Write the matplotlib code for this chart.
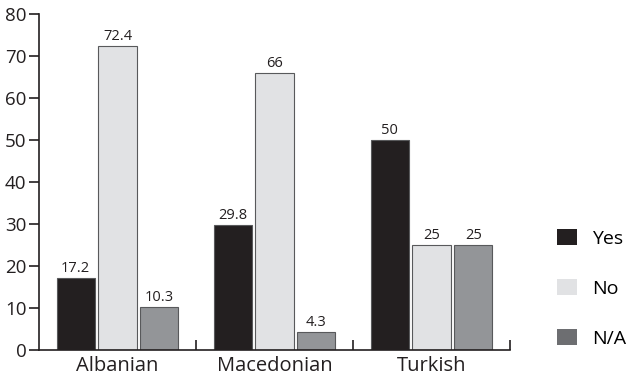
import numpy as np
import matplotlib
matplotlib.use('Agg')
import matplotlib.pyplot as plt
from matplotlib.patches import Patch

plt.rcParams['font.family'] = ['Open Sans', 'DejaVu Sans']

groups = ['Albanian', 'Macedonian', 'Turkish']
yesValues = [17.2, 29.8, 50]
noValues = [72.4, 66, 25]
naValues = [10.3, 4.3, 25]
seriesNames = ['Yes', 'No', 'N/A']

barColors = ['#231f20', '#e1e2e4', '#939598']
legendColors = ['#231f20', '#e1e2e4', '#6d6e71']

fig = plt.figure(figsize=(6.28, 3.83), dpi=100)
ax = fig.add_axes([39/628, 33/383, 471/628, 336/383])

x = np.arange(len(groups))
pitch = 0.267
width = 0.243
for i, (vals, col) in enumerate(zip([yesValues, noValues, naValues], barColors)):
    bars = ax.bar(x + (i - 1) * pitch, vals, width, color=col,
                  edgecolor='#58595b', linewidth=0.8, zorder=2)
    for b, v in zip(bars, vals):
        ax.text(b.get_x() + b.get_width() / 2, v + 0.4, f'{v:g}',
                ha='center', va='bottom', fontsize=10.5, color='#231f20')

ax.set_xlim(-0.5, 2.5)
ax.set_ylim(0, 80)
ax.set_yticks(range(0, 81, 10))
ax.set_xticks(x)
ax.set_xticklabels(groups, fontsize=14.5)
ax.set_xticks([0.5, 1.5, 2.5], minor=True)
ax.tick_params(axis='x', which='major', length=0, pad=4, colors='#231f20')
ax.tick_params(axis='x', which='minor', direction='in', length=7,
               width=1.2, color='#231f20')
ax.tick_params(axis='y', length=7, width=1.2, labelsize=13.5, pad=2,
               colors='#231f20')

for side in ['top', 'right']:
    ax.spines[side].set_visible(False)
for side in ['left', 'bottom']:
    ax.spines[side].set_linewidth(1.2)
    ax.spines[side].set_color('#231f20')

handles = [Patch(facecolor=c, edgecolor='none') for c in legendColors]
fig.legend(handles, seriesNames, loc='upper left',
           bbox_to_anchor=(547/628, 1 - 219/383), frameon=False,
           fontsize=14, labelspacing=1.62, handlelength=1.05,
           handleheight=0.9, handletextpad=0.75, borderpad=0)

fig.savefig('out.png', dpi=100)
